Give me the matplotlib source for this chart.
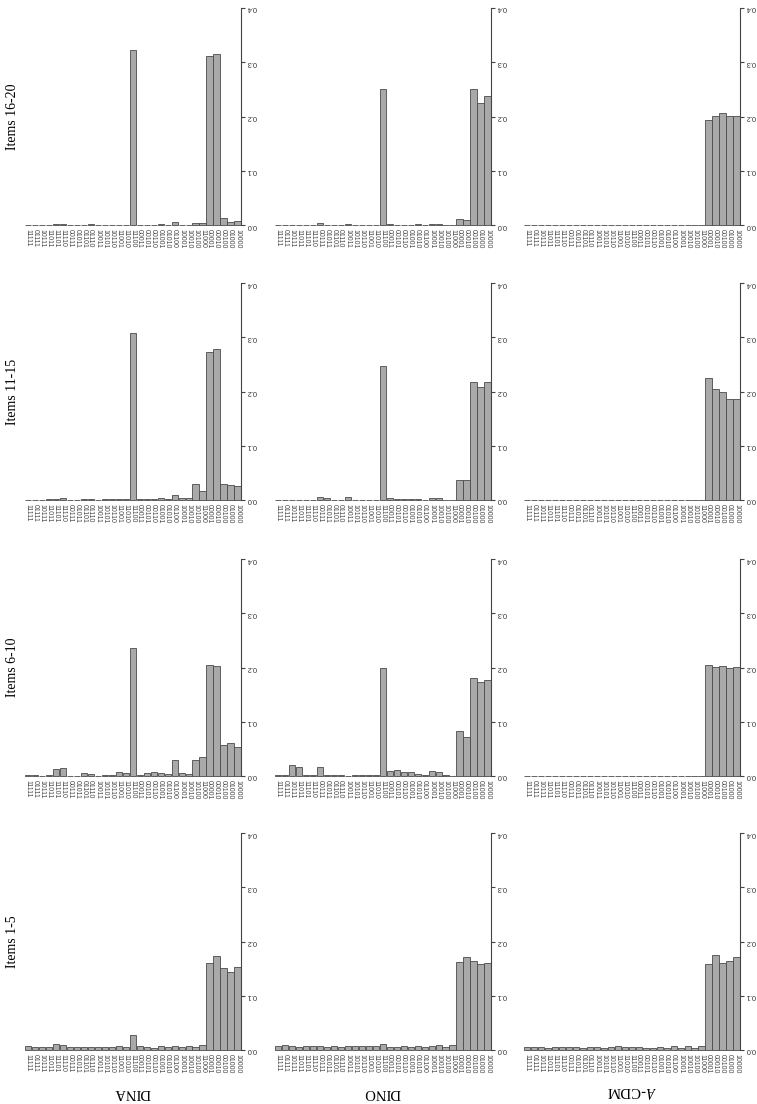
import matplotlib
matplotlib.use("Agg")
import matplotlib.pyplot as plt
import numpy as np

plt.rcParams["mathtext.fontset"] = "stix"

profiles = ["11111", "01111", "10111", "11011", "11101", "11110",
            "00111", "01011", "01101", "01110", "10011", "10101", "10110",
            "11001", "11010", "11100", "00011", "00101", "00110", "01001",
            "01010", "01100", "10001", "10010", "10100", "11000",
            "00001", "00010", "00100", "01000", "10000"]

models = ["DINA", "DINO", "A-CDM"]
model_titles = ["DINA", "DINO", r"$\mathit{A}$-CDM"]
groups = ["Items 1-5", "Items 6-10", "Items 11-15", "Items 16-20"]
yticks = [0.0, 0.1, 0.2, 0.3, 0.4]
ytick_labels = ["0.0", "0.1", "0.2", "0.3", "0.4"]

# Items 1-5
dina_1_5 = [0.008, 0.006, 0.006, 0.006, 0.011, 0.010, 0.006, 0.005, 0.005, 0.006,
            0.006, 0.005, 0.005, 0.007, 0.006, 0.028, 0.007, 0.005, 0.004, 0.007,
            0.005, 0.008, 0.005, 0.008, 0.005, 0.009, 0.160, 0.173, 0.152, 0.144, 0.153]
dino_1_5 = [0.008, 0.009, 0.008, 0.006, 0.007, 0.008, 0.007, 0.006, 0.008, 0.006,
            0.007, 0.008, 0.007, 0.007, 0.008, 0.011, 0.006, 0.006, 0.007, 0.006,
            0.008, 0.006, 0.007, 0.010, 0.006, 0.009, 0.162, 0.171, 0.164, 0.158, 0.160]
acdm_1_5 = [0.006, 0.006, 0.005, 0.004, 0.005, 0.005, 0.005, 0.005, 0.004, 0.005,
            0.006, 0.004, 0.005, 0.007, 0.005, 0.006, 0.006, 0.004, 0.004, 0.006,
            0.004, 0.007, 0.004, 0.007, 0.004, 0.008, 0.158, 0.176, 0.161, 0.164, 0.172]
# Items 6-10
dina_6_10 = [0.001, 0.001, 0.0005, 0.001, 0.0135, 0.015, 0.0005, 0.0005, 0.0055, 0.0045,
             0.0005, 0.002, 0.002, 0.007, 0.0055, 0.236, 0.001, 0.005, 0.0065, 0.005,
             0.0035, 0.029, 0.005, 0.0035, 0.030, 0.0355, 0.205, 0.202, 0.0575, 0.0605, 0.053]
dino_6_10 = [0.001, 0.002, 0.021, 0.016, 0.001, 0.001, 0.016, 0.001, 0.001, 0.001,
             0.0005, 0.001, 0.001, 0.001, 0.001, 0.200, 0.009, 0.011, 0.008, 0.008,
             0.003, 0.001, 0.009, 0.008, 0.001, 0.0, 0.083, 0.072, 0.180, 0.173, 0.177]
acdm_6_10 = [0.0] * 26 + [0.204, 0.201, 0.203, 0.200, 0.201]
# Items 11-15
dina_11_15 = [0.0005, 0.0005, 0.0005, 0.001, 0.002, 0.003, 0.0005, 0.0005, 0.001, 0.001,
              0.0005, 0.001, 0.001, 0.001, 0.001, 0.308, 0.001, 0.002, 0.002, 0.003,
              0.002, 0.009, 0.003, 0.004, 0.030, 0.016, 0.273, 0.278, 0.029, 0.027, 0.026]
dino_11_15 = [0.0005, 0.0005, 0.0005, 0.0005, 0.0005, 0.0005, 0.005, 0.003, 0.0005, 0.0005,
              0.006, 0.0005, 0.0005, 0.0005, 0.0005, 0.247, 0.003, 0.002, 0.002, 0.002,
              0.001, 0.0, 0.003, 0.003, 0.0, 0.0, 0.036, 0.037, 0.218, 0.208, 0.218]
acdm_11_15 = [0.0] * 26 + [0.225, 0.205, 0.199, 0.186, 0.186]
# Items 16-20
dina_16_20 = [0.0005, 0.0005, 0.0005, 0.0005, 0.001, 0.002, 0.0005, 0.0005, 0.0005, 0.001,
              0.0005, 0.0005, 0.0005, 0.0005, 0.0005, 0.323, 0.0005, 0.0005, 0.0005, 0.001,
              0.0005, 0.006, 0.0, 0.0, 0.003, 0.0045, 0.312, 0.316, 0.013, 0.006, 0.007]
dino_16_20 = [0.0005, 0.0005, 0.0005, 0.0005, 0.0005, 0.0005, 0.003, 0.0005, 0.0005, 0.0005,
              0.002, 0.0005, 0.0005, 0.0005, 0.0005, 0.250, 0.002, 0.0005, 0.0005, 0.0005,
              0.001, 0.0005, 0.002, 0.001, 0.0, 0.0, 0.011, 0.010, 0.250, 0.225, 0.238]
acdm_16_20 = [0.0] * 26 + [0.194, 0.201, 0.206, 0.201, 0.201]

data = {
    ("DINA", "Items 1-5"): dina_1_5, ("DINO", "Items 1-5"): dino_1_5, ("A-CDM", "Items 1-5"): acdm_1_5,
    ("DINA", "Items 6-10"): dina_6_10, ("DINO", "Items 6-10"): dino_6_10, ("A-CDM", "Items 6-10"): acdm_6_10,
    ("DINA", "Items 11-15"): dina_11_15, ("DINO", "Items 11-15"): dino_11_15, ("A-CDM", "Items 11-15"): acdm_11_15,
    ("DINA", "Items 16-20"): dina_16_20, ("DINO", "Items 16-20"): dino_16_20, ("A-CDM", "Items 16-20"): acdm_16_20,
}

W, H = 757, 1104
fig = plt.figure(figsize=(W / 100, H / 100), dpi=100)
fig.patch.set_facecolor("white")

col_left = [24, 274, 523]
row_zero = {"Items 1-5": 1050, "Items 6-10": 776, "Items 11-15": 500, "Items 16-20": 225}
pw, ph = 217, 217

x = np.arange(len(profiles))
for ci, m in enumerate(models):
    for g in groups:
        z = row_zero[g]
        ax = fig.add_axes([col_left[ci] / W, (H - z) / H, pw / W, ph / H])
        ax.bar(x, data[(m, g)], width=0.88, color="#a9a9a9", edgecolor="#4a4a4a",
               linewidth=0.6, clip_on=False)
        ax.set_xlim(-0.55, 30.5)
        ax.set_ylim(0, 0.4)
        for s in ["top", "left", "bottom"]:
            ax.spines[s].set_visible(False)
        ax.spines["right"].set_color("#444444")
        ax.spines["right"].set_linewidth(0.8)
        ax.yaxis.tick_right()
        ax.set_yticks(yticks)
        ax.set_yticklabels(ytick_labels, rotation=180, va="center",
                           fontsize=5.3, family="Liberation Sans", color="#333333")
        ax.tick_params(axis="y", length=3, width=0.8, pad=1, color="#444444")
        ax.set_xticks(x)
        ax.set_xticklabels(profiles, rotation=270, fontsize=5.0,
                           family="Liberation Sans", color="#444444")
        ax.tick_params(axis="x", length=0, pad=3)

for g in groups:
    z = row_zero[g]
    yc = (H - z + ph / 2) / H
    fig.text(13 / W, yc, g, rotation=90, ha="center", va="center",
             fontsize=10, family="Liberation Serif")

for ci, t in enumerate(model_titles):
    xc = (col_left[ci] + 108) / W
    fig.text(xc, 5 / H, t, rotation=180, ha="center", va="bottom",
             fontsize=10.5, family="Liberation Serif")

fig.savefig("out.png", dpi=100, facecolor="white")
